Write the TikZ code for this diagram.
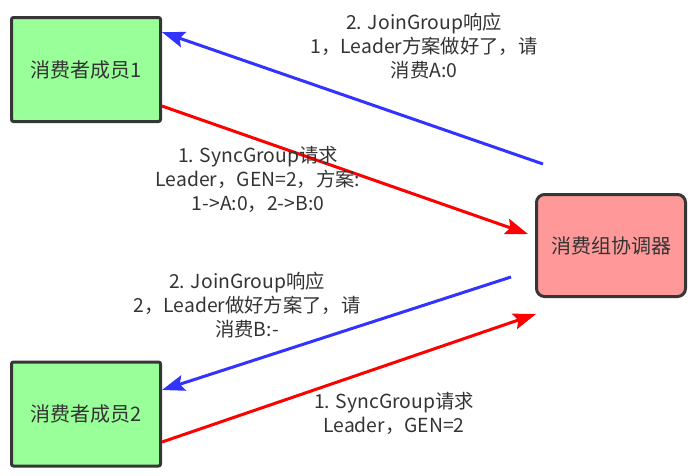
\documentclass[tikz,border=0pt]{standalone}
\usepackage{fontspec}
\setmainfont{Noto Sans CJK SC}
\usetikzlibrary{arrows.meta}
\definecolor{boxline}{HTML}{363636}
\definecolor{greenfill}{HTML}{99FF99}
\definecolor{redfill}{HTML}{FF9999}
\definecolor{blueline}{HTML}{3333FF}
\definecolor{redline}{HTML}{FF0000}
\definecolor{txt}{HTML}{333333}
\tikzset{
  member/.style={draw=boxline, line width=2.25pt, fill=greenfill, rounded corners=1.5pt,
    minimum width=111.75pt, minimum height=78pt, inner sep=0pt, text=txt,
    font=\fontsize{15}{18}\selectfont},
  coordbox/.style={member, fill=redfill, rounded corners=6pt, minimum height=76.5pt},
  lbl/.style={align=center, text=txt, inner sep=0pt, font=\fontsize{14.5}{18}\selectfont},
  bluearrow/.style={draw=blueline, line width=2.25pt, -{Stealth[length=17pt,width=12pt,inset=3pt]}},
  redarrow/.style={draw=redline, line width=2.25pt, -{Stealth[length=17pt,width=12pt,inset=3pt]}},
}
\begin{document}
\begin{tikzpicture}[x=0.75pt,y=-0.75pt]
\useasboundingbox (0,0) rectangle (692,475);
\node[member] (m1) at (86,69.5) {消费者成员1};
\node[member] (m2) at (86,414) {消费者成员2};
\node[coordbox] (co) at (611,245.5) {消费组协调器};
\coordinate (b1s) at (543,164);
\coordinate (r1e) at (528,234);
\coordinate (b2s) at (511,277);
\coordinate (r2e) at (536,314);
\draw[bluearrow] (b1s) -- ([yshift=28pt]m1.east);
\draw[redarrow] ([yshift=-27.4pt]m1.east) -- (r1e);
\draw[bluearrow] (b2s) -- ([yshift=18pt]m2.east);
\draw[redarrow] ([yshift=-21pt]m2.east) -- (r2e);
\node[lbl] (t1) at (424,46) {2. JoinGroup响应\\1，Leader方案做好了，请\\消费A:0};
\node[lbl] (t2) at (258,179) {1. SyncGroup请求\\Leader，GEN=2，方案:\\1->A:0，2->B:0};
\node[lbl] (t3) at (247,305) {2. JoinGroup响应\\2，Leader做好方案了，请\\消费B:-};
\node[lbl] (t4) at (394,413) {1. SyncGroup请求\\Leader，GEN=2};
\end{tikzpicture}
\end{document}
